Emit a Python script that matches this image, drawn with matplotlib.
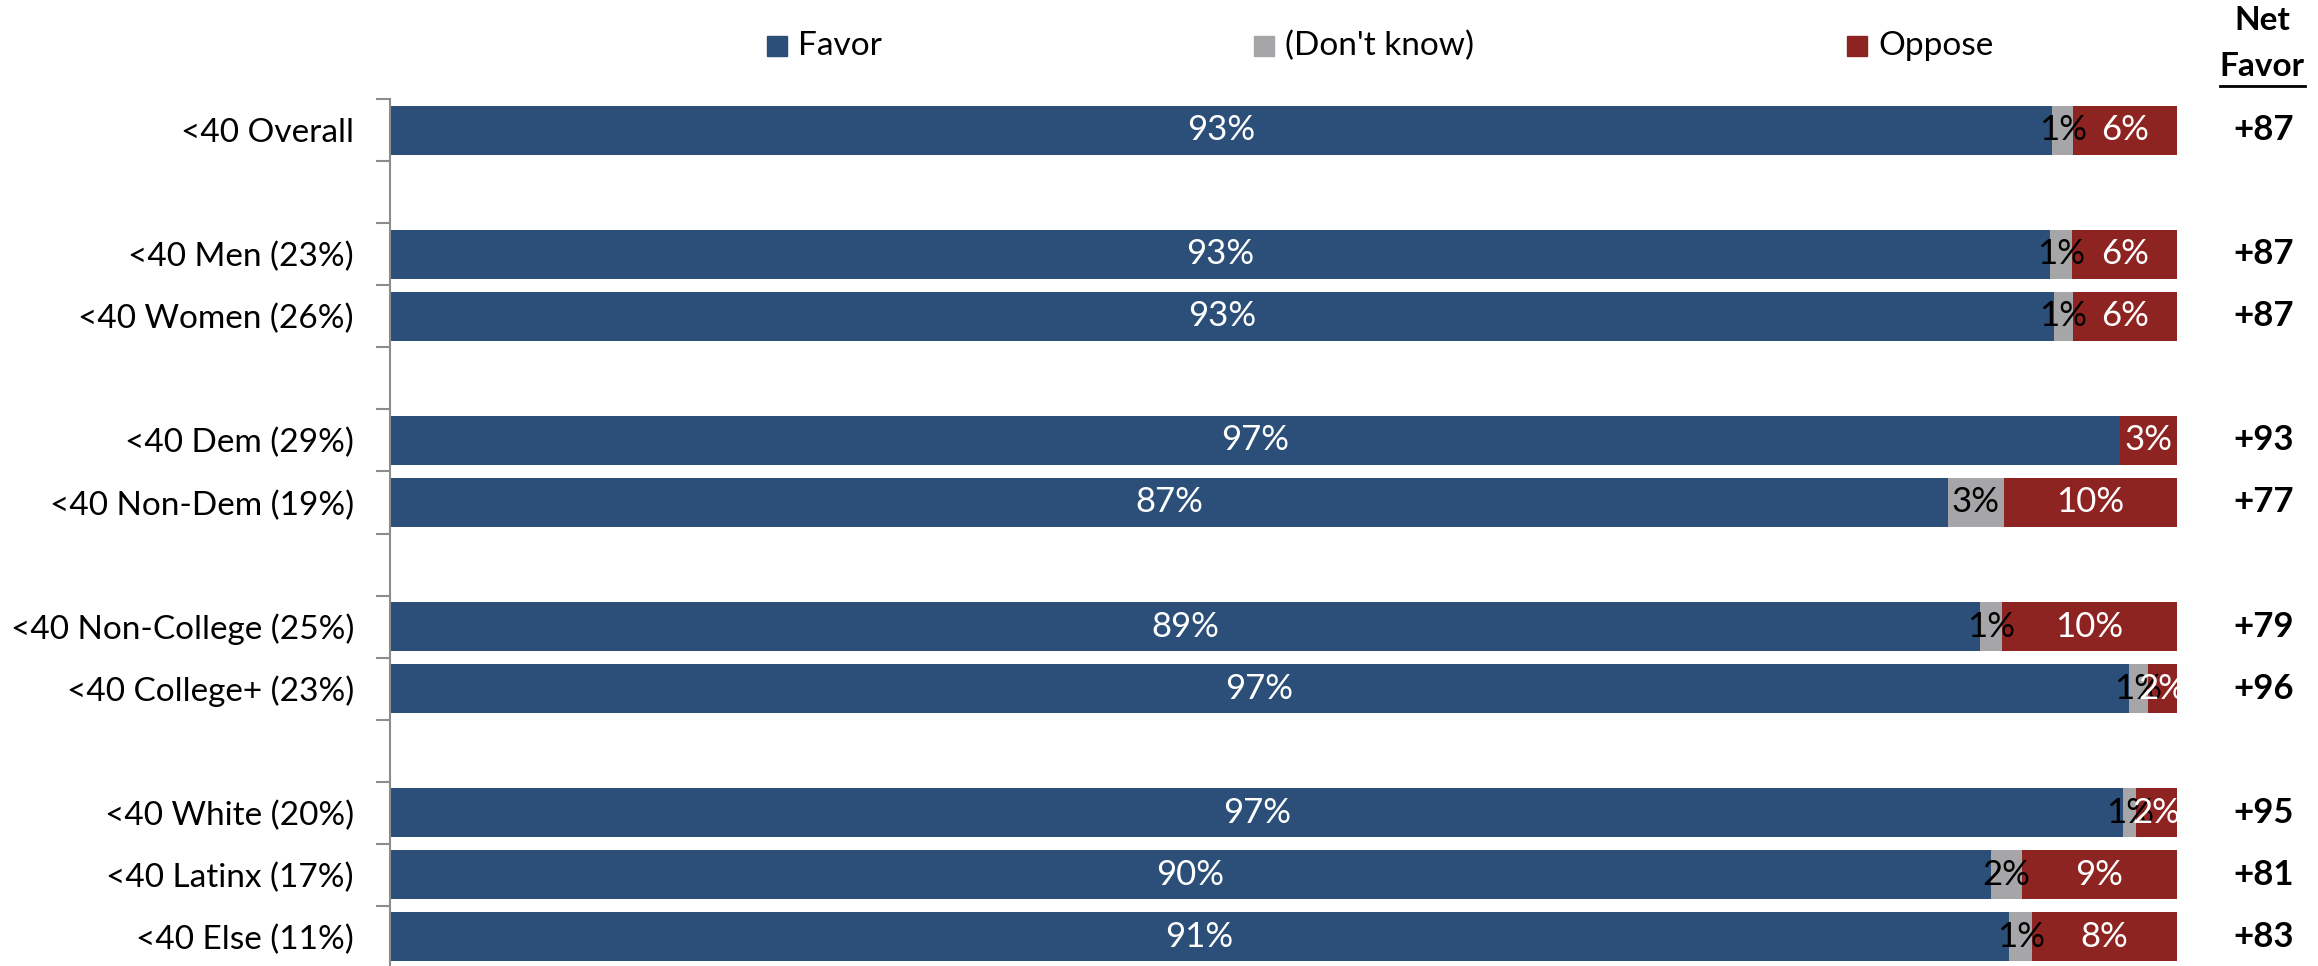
import numpy as np
import matplotlib
matplotlib.use("Agg")
import matplotlib.pyplot as plt
from matplotlib.patches import Rectangle
from matplotlib.lines import Line2D

plt.rcParams['font.family'] = ['Lato', 'DejaVu Sans']

# data, top to bottom; None marks the blank spacer rows
categories = ["<40 Overall", None, "<40 Men (23%)", "<40 Women (26%)", None,
              "<40 Dem (29%)", "<40 Non-Dem (19%)", None,
              "<40 Non-College (25%)", "<40 College+ (23%)", None,
              "<40 White (20%)", "<40 Latinx (17%)", "<40 Else (11%)"]
favor = [93.0, 92.9, 93.1, 96.8, 87.2, 89.0, 97.3, 97.0, 89.6, 90.6]
dont_know = [1.2, 1.25, 1.1, 0.0, 3.1, 1.2, 1.1, 0.7, 1.7, 1.3]
oppose = [5.8, 5.85, 5.8, 3.2, 9.7, 9.8, 1.6, 2.3, 8.7, 8.1]
net_favor = ["+87", "+87", "+87", "+93", "+77", "+79", "+96", "+95", "+81", "+83"]

series_names = ["Favor", "(Don't know)", "Oppose"]
colors = ["#2B4F78", "#A6A6A9", "#8E2421"]
label_colors = ["white", "black", "white"]

W, H = 2318, 966
fig = plt.figure(figsize=(W / 100, H / 100), dpi=100)
ax_left, ax_right = 390 / W, 2177 / W
ax_top, ax_bot = 1 - 99 / H, 1 - 968 / H
ax = fig.add_axes([ax_left, ax_bot, ax_right - ax_left, ax_top - ax_bot])

pos = [i for i, c in enumerate(categories) if c is not None]
labels = [c for c in categories if c is not None]

left = np.zeros(len(pos))
for vals, col, lcol in zip([favor, dont_know, oppose], colors, label_colors):
    vals = np.array(vals)
    ax.barh(pos, vals, left=left, height=0.79, color=col, edgecolor='none')
    for y, l, v in zip(pos, left, vals):
        if v >= 0.5:
            ax.text(l + v / 2, y, f"{round(v):.0f}%", ha='center', va='center',
                    fontsize=25, color=lcol)
    left = left + vals

ax.set_xlim(0, 100)
ax.set_ylim(len(categories) - 0.5, -0.5)
ax.set_yticks(pos)
ax.set_yticklabels(labels, fontsize=24)
ax.set_yticks(np.arange(-0.5, len(categories) + 0.5, 1), minor=True)
ax.tick_params(axis='y', which='major', length=0, pad=26)
ax.tick_params(axis='y', which='minor', length=10, color='#8C8C8C', width=1.5)
ax.set_xticks([])
for s in ['top', 'right', 'bottom']:
    ax.spines[s].set_visible(False)
ax.spines['left'].set_color('#8C8C8C')
ax.spines['left'].set_linewidth(1.5)

# net favor column, x given in figure pixels
net_x = (2264 / W - ax_left) / (ax_right - ax_left)
for y, nf in zip(pos, net_favor):
    ax.text(net_x, y, nf, transform=ax.get_yaxis_transform(), fontsize=25,
            fontweight='bold', ha='center', va='center')

fig.text(2262 / W, 1 - 21 / H, "Net", fontsize=24, fontweight='bold',
         ha='center', va='center')
fav_hdr = fig.text(2262 / W, 1 - 66 / H, "Favor", fontsize=24, fontweight='bold',
                   ha='center', va='center')

# legend
leg_x = [767, 1254, 1847]
for x, name, col in zip(leg_x, series_names, colors):
    fig.add_artist(Rectangle((x / W, 1 - 56 / H), 20 / W, 20 / H,
                             transform=fig.transFigure, color=col))
    fig.text((x + 31) / W, 1 - 46 / H, name, fontsize=24, ha='left', va='center')

fig.canvas.draw()
bb = fav_hdr.get_window_extent()
fig.add_artist(Line2D([bb.x0 / W, bb.x1 / W], [1 - 86 / H, 1 - 86 / H],
                      transform=fig.transFigure, color='black', linewidth=2))

fig.savefig("out.png", dpi=100)
